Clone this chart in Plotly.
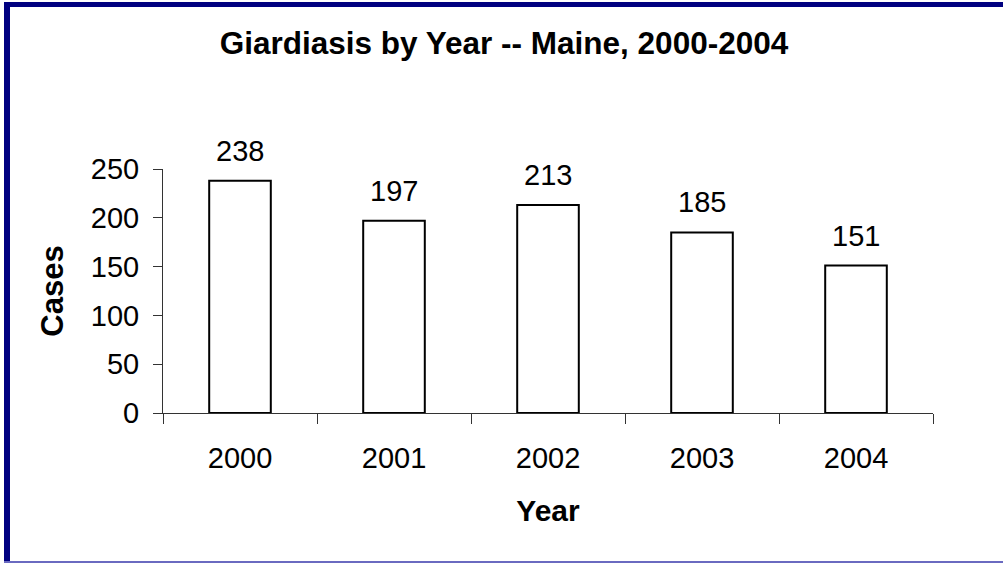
import plotly.graph_objects as go

years = ["2000", "2001", "2002", "2003", "2004"]
cases = [238, 197, 213, 185, 151]
y_ticks = [0, 50, 100, 150, 200, 250]

W, H = 1003, 563
L, R, T, B = 163, 933, 169, 413  # plot area pixel bounds


def px_x(p):
    return (p - L) / (R - L)


def px_y(p):
    return (B - p) / (B - T)


FAM = "Liberation Sans, Arial"

fig = go.Figure()
fig.add_trace(go.Bar(
    x=years, y=cases,
    marker=dict(color="white", line=dict(color="black", width=2)),
    width=0.4,
    hoverinfo="x+y",
))

for i, v in enumerate(cases):
    fig.add_annotation(x=i, y=v, text=str(v), showarrow=False,
                       xref="x", yref="y", yanchor="bottom", yshift=12,
                       font=dict(family=FAM, size=29, color="black"))

font = dict(family=FAM, size=29, color="black")

fig.update_layout(
    width=W, height=H,
    margin=dict(l=L, r=W - R, t=T, b=H - B),
    paper_bgcolor="white", plot_bgcolor="white",
    showlegend=False,
    font=font,
    title=dict(text="<b>Giardiasis by Year -- Maine, 2000-2004</b>",
               x=504 / W, xanchor="center", xref="container",
               y=1 - 43 / H, yanchor="middle", yref="container",
               font=dict(family=FAM, size=31.5, color="black")),
    xaxis=dict(
        type="category", tickson="boundaries", ticks="outside", ticklen=10,
        tickcolor="#333", showline=True, linecolor="#333", linewidth=1,
        showgrid=False, tickfont=font, ticklabelstandoff=19,
        title=dict(text="<b>Year</b>", font=dict(family=FAM, size=30, color="black"), standoff=27),
        range=[-0.5, 4.5],
    ),
    yaxis=dict(
        range=[0, 250], tickvals=y_ticks, ticks="outside", ticklen=9,
        tickcolor="#333", showline=True, linecolor="#333", linewidth=1,
        showgrid=False, zeroline=False, tickfont=font, ticklabelstandoff=8,
        title=dict(text="<b>Cases</b>", font=dict(family=FAM, size=31, color="black"), standoff=17),
    ),
    bargap=0.6,
)

navy = "#000080"
# left border
fig.add_shape(type="rect", xref="paper", yref="paper",
              x0=px_x(4), x1=px_x(10), y0=px_y(562), y1=px_y(2),
              fillcolor=navy, line=dict(width=0), layer="above")
# top border
fig.add_shape(type="rect", xref="paper", yref="paper",
              x0=px_x(4), x1=px_x(1003), y0=px_y(7), y1=px_y(2),
              fillcolor=navy, line=dict(width=0), layer="above")
# bottom thin border
fig.add_shape(type="rect", xref="paper", yref="paper",
              x0=px_x(4), x1=px_x(1003), y0=px_y(563), y1=px_y(561),
              fillcolor="#6a6ac0", line=dict(width=0), layer="above")

fig.write_html("out.html", config={"displayModeBar": False},
               post_script="document.body.style.margin='0px';document.body.style.overflow='hidden';")
